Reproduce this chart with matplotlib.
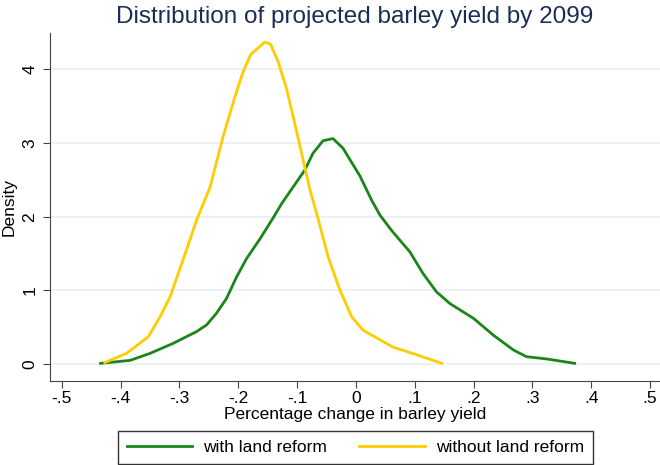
import numpy as np
import matplotlib.pyplot as plt

plt.rcParams['font.family'] = ['Liberation Sans', 'DejaVu Sans']

# with land reform
x_with = [-0.434, -0.384, -0.350, -0.311, -0.271, -0.254, -0.237, -0.220, -0.203,
          -0.186, -0.163, -0.141, -0.126, -0.107, -0.087, -0.073, -0.056, -0.039,
          -0.022, 0.007, 0.027, 0.041, 0.061, 0.092, 0.114, 0.137, 0.160, 0.200,
          0.234, 0.268, 0.290, 0.324, 0.372]
d_with = [0.01, 0.05, 0.145, 0.28, 0.44, 0.53, 0.69, 0.89, 1.18,
          1.43, 1.70, 1.98, 2.18, 2.40, 2.63, 2.86, 3.03, 3.06,
          2.93, 2.55, 2.22, 2.02, 1.81, 1.52, 1.23, 0.98, 0.82, 0.62,
          0.39, 0.19, 0.10, 0.07, 0.01]

# without land reform
x_without = [-0.427, -0.390, -0.353, -0.333, -0.316, -0.288, -0.271, -0.248, -0.226,
             -0.206, -0.192, -0.179, -0.155, -0.145, -0.132, -0.118, -0.098, -0.078,
             -0.067, -0.047, -0.027, -0.007, 0.012, 0.063, 0.100, 0.146]
d_without = [0.02, 0.145, 0.37, 0.64, 0.91, 1.55, 1.95, 2.40, 3.08,
             3.62, 3.96, 4.20, 4.37, 4.34, 4.10, 3.74, 3.06, 2.36,
             2.05, 1.45, 1.00, 0.64, 0.46, 0.23, 0.135, 0.01]

xticks = [-0.5, -0.4, -0.3, -0.2, -0.1, 0, 0.1, 0.2, 0.3, 0.4, 0.5]
xlabels = ['-.5', '-.4', '-.3', '-.2', '-.1', '0', '.1', '.2', '.3', '.4', '.5']
yticks = [0, 1, 2, 3, 4]

fig = plt.figure(figsize=(6.6, 4.65), dpi=100)
ax = fig.add_axes([0.0758, 0.1806, 0.9242, 0.748])

ax.plot(x_with, d_with, color='#1a861a', lw=2, label='with land reform')
ax.plot(x_without, d_without, color='#ffcc00', lw=2, label='without land reform')

ax.set_xlim(-0.52, 0.517)
ax.set_ylim(-0.23, 4.49)
ax.set_xticks(xticks)
ax.set_xticklabels(xlabels)
ax.set_yticks(yticks)
ax.tick_params(axis='both', labelsize=12.5, length=5, color='#444444', pad=2)
ax.tick_params(axis='y', pad=4)
for lab in ax.get_yticklabels():
    lab.set_rotation(90)
    lab.set_va('center')
ax.yaxis.grid(True, color='#e8f0f2', lw=1.2)
ax.set_axisbelow(True)
ax.spines['top'].set_visible(False)
ax.spines['right'].set_visible(False)
ax.spines['left'].set_color('#444444')
ax.spines['bottom'].set_color('#444444')

ax.set_xlabel('Percentage change in barley yield', fontsize=12.5, labelpad=1)
ax.set_ylabel('Density', fontsize=12.5, labelpad=4)
fig.suptitle('Distribution of projected barley yield by 2099', fontsize=17.5,
             color='#1c2d55', x=0.538, y=0.988)

leg = fig.legend(loc='lower center', bbox_to_anchor=(0.5386, 0.003), ncol=2,
                 fontsize=12.5, frameon=True, fancybox=False, handlelength=3.75,
                 handletextpad=0.65, columnspacing=1.85, edgecolor='black',
                 borderpad=0.5, borderaxespad=0)
leg.get_frame().set_linewidth(1)

fig.savefig('out.png', dpi=100)
